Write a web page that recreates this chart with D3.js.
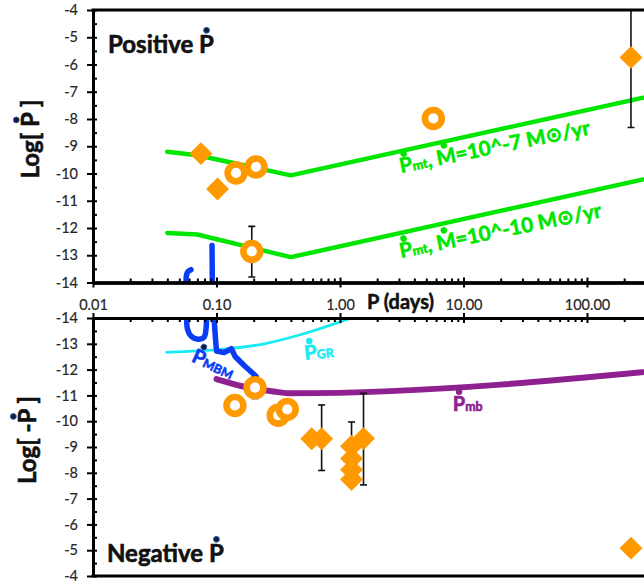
<!DOCTYPE html>
<html>
<head>
<meta charset="utf-8">
<script src="https://cdnjs.cloudflare.com/ajax/libs/d3/7.8.5/d3.min.js"></script>
<style>
body { margin: 0; background: #fff; }
svg { display: block; font-family: Lato, "DejaVu Sans", sans-serif; }
</style>
</head>
<body>
<script>
// tick values
var xTickValues = [0.01, 0.1, 1, 10, 100];
var yTickValues = [-4, -5, -6, -7, -8, -9, -10, -11, -12, -13, -14];

// model curves, [P (days), log value]
var mtHigh = [[0.04, -9.2], [0.07, -9.33], [0.4, -10.07], [1000, -6.67]];
var mtLow = [[0.04, -12.18], [0.07, -12.24], [0.4, -13.07], [1000, -9.67]];
var mbCurve = [[0.1, -11.63], [0.18, -11.3], [0.29, -11.15], [0.4, -11.08], [1000, -12.16]];
var grCurve = [[0.0395, -12.67], [0.113, -12.79], [0.238, -12.99], [0.5, -13.38], [1.37, -14.08]];
var mbmTopA = [[0.0567, -14.0], [0.0571, -13.74], [0.0588, -13.6], [0.0621, -13.53]];
var mbmTopB = [[0.0925, -14.0], [0.092, -12.64]];
var mbmBotA = [[0.0574, -14.0], [0.0582, -13.57], [0.0621, -13.3], [0.0708, -13.18], [0.0793, -13.26], [0.0822, -13.57], [0.083, -14.0]];
var mbmBotB = [[0.0955, -14.0], [0.0982, -13.18], [0.1, -12.72], [0.115, -12.66], [0.132, -12.81], [0.141, -12.52], [0.17, -12.13], [0.209, -11.74]];

// observed systems, e1/e2 = error bar ends
var posDiamonds = [{p: 0.0748, v: -9.27}, {p: 0.102, v: -10.57}, {p: 227, v: -5.74, e1: -8.31, e2: -4}];
var posRings = [{p: 0.144, v: -9.98}, {p: 0.209, v: -9.76}, {p: 0.193, v: -12.86, e1: -13.8, e2: -11.94}, {p: 5.7, v: -7.98}];
var negRings = [{p: 0.141, v: -10.61}, {p: 0.205, v: -11.3, e1: -11.72, e2: -10.88}, {p: 0.316, v: -10.23}, {p: 0.374, v: -10.46}];
var negDiamonds = [{p: 0.59, v: -9.32}, {p: 0.71, v: -9.32, e1: -10.63, e2: -8.09}, {p: 1.24, v: -9.03, e1: -9.97, e2: -8.09},
   {p: 1.24, v: -8.55}, {p: 1.24, v: -8.12}, {p: 1.24, v: -7.74}, {p: 1.55, v: -9.33, e1: -11.08, e2: -7.53}, {p: 227, v: -5.08}];

var orange = "#ff9900", green = "#00e600", purple = "#8e2090", cyan = "#18ebf2", blue = "#0a3cf5";
var navy = "#0f1d3a";

var x = d3.scaleLog().domain([0.01, 1000]).range([93, 93 + 5 * 123.5]);
var yTop = d3.scaleLinear().domain([-4, -14]).range([10, 282.5]);
var yBot = d3.scaleLinear().domain([-14, -4]).range([318, 576]);

var svg = d3.select("body")
   .append("svg")
   .attr("width", 644)
   .attr("height", 588);

var defs = svg.append("defs");
defs.append("clipPath").attr("id", "clipTop")
   .append("rect").attr("x", 93).attr("y", 10).attr("width", 560).attr("height", 272.5);
defs.append("clipPath").attr("id", "clipBot")
   .append("rect").attr("x", 93).attr("y", 318).attr("width", 560).attr("height", 258);

var gTop = svg.append("g").attr("clip-path", "url(#clipTop)");
var gBot = svg.append("g").attr("clip-path", "url(#clipBot)");

function line(y, curve) {
   return d3.line()
      .x(function(d) { return x(d[0]) })
      .y(function(d) { return y(d[1]) })
      .curve(curve || d3.curveLinear);
}

function drawCurve(g, data, y, color, width, curve) {
   g.append("path")
      .attr("d", line(y, curve)(data))
      .style("fill", "none")
      .style("stroke", color)
      .style("stroke-width", width)
      .style("stroke-linecap", "round")
      .style("stroke-linejoin", "round");
}

// top panel curves
drawCurve(gTop, mtHigh, yTop, green, 4.5);
drawCurve(gTop, mtLow, yTop, green, 4.5);
drawCurve(gTop, mbmTopA, yTop, blue, 5.5, d3.curveCatmullRom);
drawCurve(gTop, mbmTopB, yTop, blue, 5.5);

// bottom panel curves
drawCurve(gBot, grCurve, yBot, cyan, 2.8, d3.curveMonotoneX);
drawCurve(gBot, mbmBotA, yBot, blue, 5.5, d3.curveCatmullRom);
drawCurve(gBot, mbmBotB, yBot, blue, 5.5);
drawCurve(gBot, mbCurve, yBot, purple, 6, d3.curveMonotoneX);

var diamond = d3.symbol().type(d3.symbolSquare).size(262);

function drawPoints(g, y, diamonds, rings) {
   var withErr = diamonds.concat(rings).filter(function(d) { return d.e1 != null });
   var eb = g.selectAll(null).data(withErr).enter().append("g")
      .style("stroke", "#111").style("stroke-width", 1.6);
   eb.append("line")
      .attr("x1", function(d) { return x(d.p) }).attr("x2", function(d) { return x(d.p) })
      .attr("y1", function(d) { return y(d.e1) }).attr("y2", function(d) { return y(d.e2) });
   eb.append("line")
      .attr("x1", function(d) { return x(d.p) - 3.5 }).attr("x2", function(d) { return x(d.p) + 3.5 })
      .attr("y1", function(d) { return y(d.e1) }).attr("y2", function(d) { return y(d.e1) });
   eb.append("line")
      .attr("x1", function(d) { return x(d.p) - 3.5 }).attr("x2", function(d) { return x(d.p) + 3.5 })
      .attr("y1", function(d) { return y(d.e2) }).attr("y2", function(d) { return y(d.e2) });

   g.selectAll(null).data(diamonds).enter().append("path")
      .attr("d", diamond)
      .attr("transform", function(d) { return "translate(" + x(d.p) + "," + y(d.v) + ") rotate(45)" })
      .style("fill", orange);

   g.selectAll(null).data(rings).enter().append("circle")
      .attr("cx", function(d) { return x(d.p) })
      .attr("cy", function(d) { return y(d.v) })
      .attr("r", 8.4)
      .style("fill", "#fff")
      .style("stroke", orange)
      .style("stroke-width", 6.6);
}

drawPoints(gTop, yTop, posDiamonds, posRings);
drawPoints(gBot, yBot, negDiamonds, negRings);

// axes
function styleAxis(g, w) {
   g.select(".domain").style("stroke-width", w || 3).style("stroke", "#000");
   g.selectAll(".tick line").style("stroke-width", 2).style("stroke", "#000");
   g.selectAll("text").style("font-size", "14.5px").style("fill", "#262626").style("font-family", "Lato")
      .style("stroke", "#262626").style("stroke-width", 0.2);
}

var yMinor = d3.range(-13.5, -4, 1);
var xMinor = [];
[0.01, 0.1, 1, 10, 100].forEach(function(dec) {
   for (var k = 2; k < 10; k++) xMinor.push(dec * k);
});
var noLabel = function() { return "" };

[yTop, yBot].forEach(function(y) {
   svg.append("g").attr("transform", "translate(93,0)")
      .call(d3.axisLeft(y).tickValues(yTickValues).tickSize(6).tickSizeOuter(0).tickPadding(9)
         .tickFormat(function(d) { return String(d) }))
      .call(styleAxis);
   svg.append("g").attr("transform", "translate(93,0)")
      .call(d3.axisLeft(y).tickValues(yTickValues).tickSize(-4).tickSizeOuter(0).tickFormat(noLabel))
      .call(styleAxis);
   svg.append("g").attr("transform", "translate(93,0)")
      .call(d3.axisLeft(y).tickValues(yMinor).tickSize(-4).tickSizeOuter(0).tickFormat(noLabel))
      .call(styleAxis);
});

// top panel x axis (bottom edge)
svg.append("g").attr("transform", "translate(0," + yTop(-14) + ")")
   .call(d3.axisBottom(x).tickValues(xTickValues).tickSize(5).tickSizeOuter(0).tickFormat(noLabel))
   .call(styleAxis);
svg.append("g").attr("transform", "translate(0," + yTop(-14) + ")")
   .call(d3.axisBottom(x).tickValues(xTickValues).tickSize(-5).tickSizeOuter(0).tickFormat(noLabel))
   .call(styleAxis);
svg.append("g").attr("transform", "translate(0," + yTop(-14) + ")")
   .call(d3.axisBottom(x).tickValues(xMinor).tickSize(-4).tickSizeOuter(0).tickFormat(noLabel))
   .call(styleAxis);

// bottom panel x axis (top edge, labelled)
svg.append("g").attr("transform", "translate(0," + yBot(-14) + ")")
   .call(d3.axisTop(x).tickValues(xTickValues).tickSize(5).tickSizeOuter(0).tickPadding(3)
      .tickFormat(d3.format(".2f")))
   .call(styleAxis);
svg.append("g").attr("transform", "translate(0," + yBot(-14) + ")")
   .call(d3.axisTop(x).tickValues(xTickValues).tickSize(-5).tickSizeOuter(0).tickFormat(noLabel))
   .call(styleAxis);
svg.append("g").attr("transform", "translate(0," + yBot(-14) + ")")
   .call(d3.axisTop(x).tickValues(xMinor).tickSize(-4).tickSizeOuter(0).tickFormat(noLabel))
   .call(styleAxis);

// frame top and bottom
svg.append("line").attr("x1", 93).attr("x2", 644).attr("y1", yTop(-4)).attr("y2", yTop(-4))
   .style("stroke", "#000").style("stroke-width", 3).style("stroke-linecap", "square");
svg.append("line").attr("x1", 93).attr("x2", 644).attr("y1", yBot(-4)).attr("y2", yBot(-4))
   .style("stroke", "#000").style("stroke-width", 3).style("stroke-linecap", "square");

svg.append("text")
   .attr("x", 367).attr("y", 309)
   .style("font-weight", "bold").style("font-size", "20px").style("fill", "#111")
   .style("stroke", "#111").style("stroke-width", 0.5)
   .text("P (days)");

// text with a dot above chosen characters
function dotText(px, py, angle, fill, fs, parts, dots, anchor) {
   var grp = svg.append("g").attr("transform", "translate(" + px + "," + py + ") rotate(" + angle + ")");
   var t = grp.append("text")
      .style("fill", fill).style("font-weight", "bold").style("font-size", fs + "px")
      .style("stroke", fill).style("stroke-width", 0.6)
      .attr("text-anchor", anchor || "start");
   parts.forEach(function(p) {
      t.append("tspan").style("font-size", (fs * p[1]) + "px").text(p[0]);
   });
   dots.forEach(function(d) {
      var b = t.node().getExtentOfChar(d.i);
      grp.append("circle")
         .attr("cx", b.x + b.width / 2 + (d.dx || 0))
         .attr("cy", -0.7165 * fs - d.gap - d.r)
         .attr("r", d.r)
         .style("fill", d.fill)
         .style("stroke", d.stroke || "none")
         .style("stroke-width", 0.8);
   });
   return grp;
}

var navyDot = {r: 3, gap: 2.5, fill: navy, stroke: "#3a6ec0"};

dotText(108, 53, 0, "#111", 24, [["Positive P", 1]], [Object.assign({i: 9}, navyDot)]);
dotText(107, 562, 0, "#111", 24, [["Negative P", 1]], [Object.assign({i: 9}, navyDot)]);
dotText(39, 139, -90, "#111", 24, [["Log[ P ]", 1]], [Object.assign({i: 5}, navyDot)], "middle");
dotText(36, 440, -90, "#111", 24, [["Log[ -P ]", 1]], [Object.assign({i: 6}, navyDot)], "middle");

// model labels
var gDot = {r: 3.3, gap: 0.5, fill: green};
dotText(x(3.12), yTop(-9.98), -11.5, green, 20.5, [["P", 1], ["mt", 0.62], [", M=10^-7 M\u2299/yr", 1]],
   [Object.assign({i: 0}, gDot), Object.assign({i: 5}, gDot)]);
dotText(x(3.12), yTop(-13.1), -11.5, green, 20.5, [["P", 1], ["mt", 0.62], [", M=10^-10 M\u2299/yr", 1]],
   [Object.assign({i: 0}, gDot), Object.assign({i: 5}, gDot)]);
dotText(x(0.0616), yBot(-12.33), 25, blue, 20, [["P", 1], ["MBM", 0.62]],
   [Object.assign({i: 0}, navyDot, {gap: 1})]);
dotText(x(0.521), yBot(-12.37), -6, cyan, 20, [["P", 1], ["GR", 0.62]],
   [{i: 0, r: 3.2, gap: 1, fill: cyan}]);
dotText(x(8.2), yBot(-10.4), 0, purple, 20, [["P", 1], ["mb", 0.62]],
   [{i: 0, r: 3.2, gap: 1.5, fill: purple}]);
</script>
</body>
</html>
